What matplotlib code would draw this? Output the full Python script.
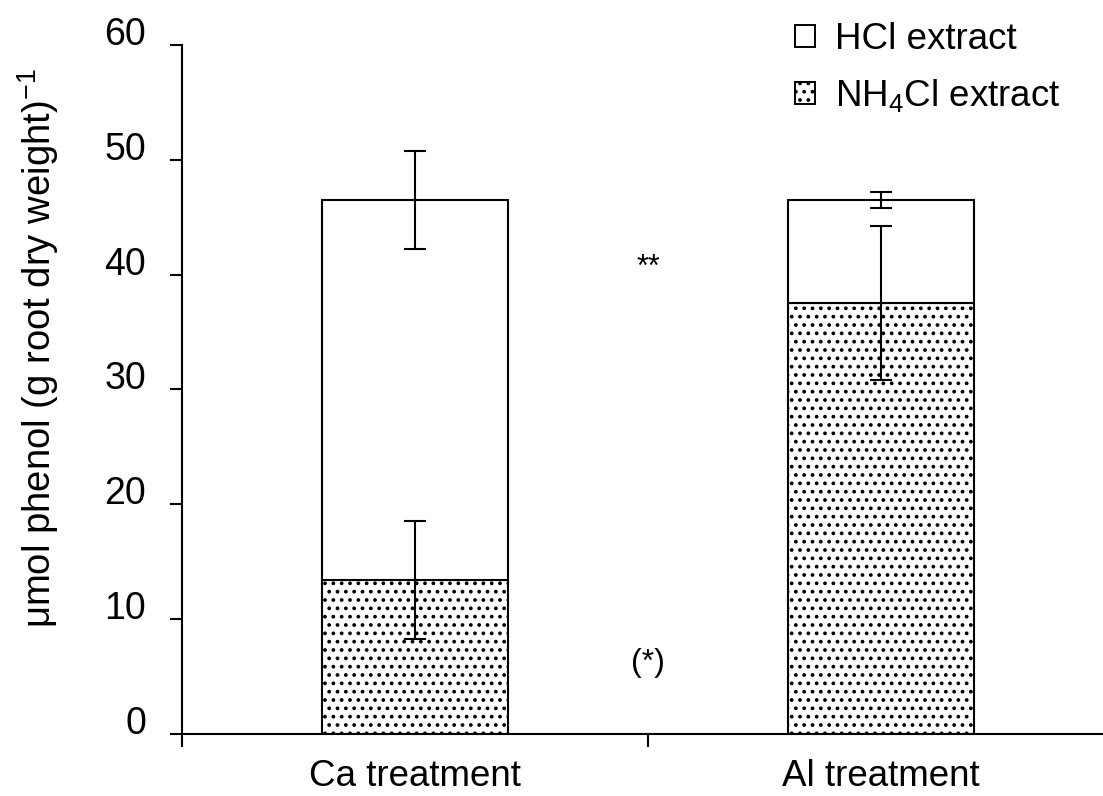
import matplotlib
matplotlib.use("Agg")
import matplotlib.pyplot as plt
from matplotlib.patches import Patch

plt.rcParams['font.family'] = ['Liberation Sans', 'DejaVu Sans']
plt.rcParams['hatch.linewidth'] = 1.5
plt.rcParams['hatch.color'] = 'black'

categories = ["Ca treatment", "Al treatment"]
nh4cl_mean = [13.4, 37.5]
nh4cl_err = [5.1, 6.7]
hcl_mean = [33.1, 9.0]      # stacked on top of the NH4Cl portion
hcl_err = [4.3, 0.7]
yticks = [0, 10, 20, 30, 40, 50, 60]
sig_labels = ["**", "(*)"]
sig_values = [40.6, 6.2]

fig = plt.figure(figsize=(11.03, 7.96), dpi=100)
ax = fig.add_axes([0.165, 0.078, 0.845, 0.8655])

x = [0.5, 1.5]
width = 0.4
tops = [a + b for a, b in zip(nh4cl_mean, hcl_mean)]

ax.bar(x, nh4cl_mean, width=width, color='white', edgecolor='black',
       linewidth=1.5, hatch='..', zorder=2)
ax.bar(x, hcl_mean, width=width, bottom=nh4cl_mean, color='white',
       edgecolor='black', linewidth=1.5, zorder=2)

ax.errorbar(x, nh4cl_mean, yerr=nh4cl_err, fmt='none', ecolor='black',
            elinewidth=1.5, capsize=8, capthick=1.5, zorder=3)
ax.errorbar(x, tops, yerr=hcl_err, fmt='none', ecolor='black',
            elinewidth=1.5, capsize=8, capthick=1.5, zorder=3)

ax.text(1.0, sig_values[0], sig_labels[0], ha='center', va='center', fontsize=22)
ax.text(1.0, sig_values[1], sig_labels[1], ha='center', va='center', fontsize=23)

ax.set_xlim(0, 2)
ax.set_ylim(0, 60)
ax.set_yticks(yticks)
ax.set_xticks([0, 1, 2])
ax.set_xticklabels([])
ax.set_xticks(x, minor=True)
ax.set_xticklabels(categories, minor=True, fontsize=26.5)
ax.tick_params(axis='x', which='minor', length=0, pad=18)
ax.tick_params(axis='x', which='major', direction='out', length=9, width=1.5)
ax.tick_params(axis='y', direction='out', length=9, width=1.5, labelsize=27, pad=17)
for lab in ax.get_yticklabels():
    lab.set_va('baseline')

for side in ['top', 'right']:
    ax.spines[side].set_visible(False)
for side in ['left', 'bottom']:
    ax.spines[side].set_linewidth(1.5)

ax.set_ylabel(r"μmol phenol (g root dry weight)$^{\mathregular{-1}}$", fontsize=27.5)
ax.yaxis.set_label_coords(-0.13, 0.56)

handles = [Patch(facecolor='white', edgecolor='black', linewidth=1.4, label='HCl extract'),
           Patch(facecolor='white', edgecolor='black', linewidth=1.4, hatch='..',
                 label=r'NH$_{\mathregular{4}}$Cl extract')]
leg = fig.legend(handles=handles, loc='upper right', bbox_to_anchor=(0.992, 1.014),
                 frameon=False, fontsize=26.5, handlelength=0.55, handleheight=0.55,
                 handletextpad=0.55, labelspacing=0.55)

fig.savefig("out.png", dpi=100)
